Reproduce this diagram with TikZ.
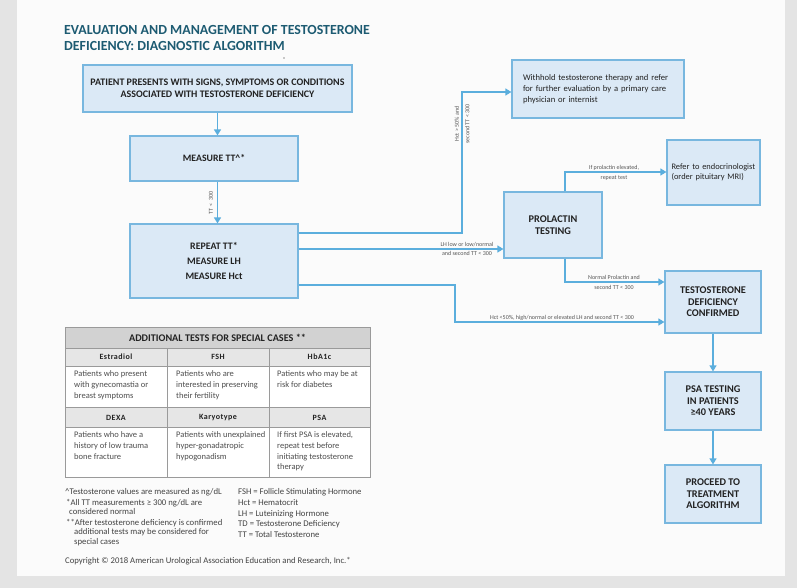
\documentclass[tikz,border=0pt]{standalone}
\usepackage{fontspec}
\setmainfont{Carlito}
\usetikzlibrary{arrows.meta}
\definecolor{bgc}{HTML}{E4E4E4}
\definecolor{panelc}{HTML}{FBFBFB}
\definecolor{boxfill}{HTML}{DBE9F6}
\definecolor{boxline}{HTML}{78B7DF}
\definecolor{connc}{HTML}{5BAEDD}
\definecolor{titlec}{HTML}{1D5B72}
\definecolor{txt}{HTML}{222222}
\definecolor{lblc}{HTML}{555555}
\definecolor{tabline}{HTML}{9A9A9A}
\definecolor{tabhead}{HTML}{D2D2D2}
\definecolor{tabsub}{HTML}{E6E6E6}
\tikzset{
  box/.style={draw=boxline, fill=boxfill, line width=1.2pt, align=center, text=txt, inner sep=0pt},
  bigtxt/.style={font=\bfseries\fontsize{10.3}{11.6}\selectfont},
  conn/.style={draw=connc, line width=1.3pt, -{Triangle[width=7pt,length=6pt]}},
  lbl/.style={font=\fontsize{6}{8.5}\selectfont, text=lblc, align=center, inner sep=0pt},
  cell/.style={draw=tabline, line width=0.8pt},
  colhead/.style={font=\bfseries\fontsize{8}{10}\selectfont\addfontfeature{LetterSpace=6}, text=txt, inner sep=0pt},
  celltxt/.style={font=\fontsize{8.5}{10.7}\selectfont, text=txt!80, align=left, anchor=north west, inner sep=0pt},
  foot/.style={font=\fontsize{8.7}{9}\selectfont, text=txt!85, anchor=base west, inner sep=0pt}
}
\begin{document}
\begin{tikzpicture}[x=1pt,y=-1pt]
\useasboundingbox (0,0) rectangle (797,588);
\fill[bgc] (0,0) rectangle (797,588);
\fill[panelc] (17,0) rectangle (785,576);

% title
\node[anchor=base west, inner sep=0pt, text=titlec, font=\bfseries\fontsize{13.9}{16}\selectfont] (t1) at (64,35) {EVALUATION AND MANAGEMENT OF TESTOSTERONE};
\node[anchor=base west, inner sep=0pt, text=titlec, font=\bfseries\fontsize{13.9}{16}\selectfont] (t2) at (64,51) {DEFICIENCY: DIAGNOSTIC ALGORITHM};
\fill[txt] (284,58) circle (0.6pt);

% boxes
\node[box, font=\bfseries\fontsize{10}{12.5}\selectfont, minimum width=269pt, minimum height=47pt] (b1) at (217.5,88.5)
  {PATIENT PRESENTS WITH SIGNS, SYMPTOMS OR CONDITIONS\\ASSOCIATED WITH TESTOSTERONE DEFICIENCY};
\node[box, font=\bfseries\fontsize{9.8}{12}\selectfont, minimum width=168pt, minimum height=45pt] (b2) at (214,158.5) {MEASURE TT\textasciicircum*};
\node[box, font=\bfseries\fontsize{9.9}{15}\selectfont, minimum width=168pt, minimum height=74pt] (b3) at (214,261) {REPEAT TT*\\MEASURE LH\\MEASURE Hct};
\node[box, minimum width=172pt, minimum height=58pt, text width=150pt, align=left, font=\fontsize{8.6}{11}\selectfont] (wh) at (598,89)
  {Withhold testosterone therapy and refer for further evaluation by a primary care physician or internist};
\node[box, font=\bfseries\fontsize{10.3}{12}\selectfont, minimum width=98pt, minimum height=66pt] (pr) at (553,225) {PROLACTIN\\TESTING};
\node[box, minimum width=93pt, minimum height=65pt, text width=84pt, align=left, font=\fontsize{8.4}{10.5}\selectfont] (rf) at (713.5,172.5)
  {Refer to endocrinologist (order pituitary MRI)};
\node[box, bigtxt, minimum width=96pt, minimum height=62pt] (td) at (713,302) {TESTOSTERONE\\DEFICIENCY\\CONFIRMED};
\node[box, bigtxt, minimum width=96pt, minimum height=58pt] (ps) at (713,401) {PSA TESTING\\IN PATIENTS\\≥40 YEARS};
\node[box, bigtxt, minimum width=96pt, minimum height=58pt] (pc) at (713,494) {PROCEED TO\\TREATMENT\\ALGORITHM};

% coordinates for bends
\coordinate (c1) at (462,92);
\coordinate (c2) at (455,322);
\coordinate (c3) at (565,172);
\coordinate (c4) at (565,282);

% connectors
\draw[conn] (b1.south) -- (b1.south |- b2.north);
\draw[conn] (b1.south |- b2.south) -- (b1.south |- b3.north);
\draw[conn] (b3.east |- 0,233) -| (c1) -- (wh.west |- c1);
\draw[conn] (b3.east |- 0,249) -- (pr.west |- 0,249);
\draw[conn] (c3 |- pr.north) -- (c3) -- (rf.west |- c3);
\draw[conn] (c4 |- pr.south) -- (c4) -- (td.west |- c4);
\draw[conn] (b3.east |- 0,285) -| (c2) -- (td.west |- c2);
\draw[conn] (td.south -| 713,0) -- (ps.north -| 713,0);
\draw[conn] (ps.south -| 713,0) -- (pc.north -| 713,0);

% connector labels
\node[lbl, rotate=90] (l0) at (211,203) {TT \,<\, 300};
\node[lbl, rotate=90, font=\fontsize{6}{10.5}\selectfont] (l1) at (462,124) {Hct > 50\% and\\second TT < 300};
\node[lbl] (l2) at (467,249) {LH low or low/normal\\and second TT < 300};
\node[lbl, font=\fontsize{6}{10}\selectfont] (l3) at (614,173) {If prolactin elevated,\\repeat test};
\node[lbl, font=\fontsize{6}{9.5}\selectfont] (l4) at (614,282.5) {Normal Prolactin and\\second TT < 300};
\node[lbl] (l5) at (562,317.5) {Hct <50\%, high/normal or elevated LH and second TT < 300};

% table
\fill[tabhead] (65,327) rectangle (370,348);
\fill[tabsub] (65,348) rectangle (370,366);
\fill[white] (65,366) rectangle (370,407);
\fill[tabsub] (65,407) rectangle (370,427);
\fill[white] (65,427) rectangle (370,477);
\draw[cell] (65,327) rectangle (370,477);
\draw[cell] (65,348) -- (370,348);
\draw[cell] (65,366) -- (370,366);
\draw[cell] (65,407) -- (370,407);
\draw[cell] (65,427) -- (370,427);
\draw[cell] (167,348) -- (167,477);
\draw[cell] (269,348) -- (269,477);
\node[font=\bfseries\fontsize{10.2}{10}\selectfont, text=txt, inner sep=0pt] (th) at (217.5,337.5) {ADDITIONAL TESTS FOR SPECIAL CASES **};
\node[colhead] (h1) at (116,357) {Estradiol};
\node[colhead] (h2) at (218,357) {FSH};
\node[colhead] (h3) at (319.5,357) {HbA1c};
\node[colhead] (h4) at (116,417.5) {DEXA};
\node[colhead] (h5) at (218,417.5) {Karyotype};
\node[colhead] (h6) at (319.5,417.5) {PSA};
\node[celltxt] (e1) at (74,370.5) {Patients who present\\with gynecomastia or\\breast symptoms};
\node[celltxt] (e2) at (176,370.5) {Patients who are\\interested in preserving\\their fertility};
\node[celltxt] (e3) at (277,370.5) {Patients who may be at\\risk for diabetes};
\node[celltxt] (e4) at (74,431.5) {Patients who have a\\history of low trauma\\bone fracture};
\node[celltxt] (e5) at (176,431.5) {Patients with unexplained\\hyper-gonadatropic\\hypogonadism};
\node[celltxt] (e6) at (277,431.5) {If first PSA is elevated,\\repeat test before\\initiating testosterone\\therapy};

% footnotes
\node[foot] (f1) at (65,494) {\textasciicircum Testosterone values are measured as ng/dL};
\node[foot] (f2) at (66,505) {*All TT measurements ≥ 300 ng/dL are};
\node[foot] (f3) at (69,514.5) {considered normal};
\node[foot] (f4) at (66,525) {**After testosterone deficiency is confirmed};
\node[foot] (f5) at (74,534.5) {additional tests may be considered for};
\node[foot] (f6) at (74,544) {special cases};
\node[foot] (g1) at (238,494) {FSH = Follicle Stimulating Hormone};
\node[foot] (g2) at (238,505) {Hct = Hematocrit};
\node[foot] (g3) at (238,516) {LH = Luteinizing Hormone};
\node[foot] (g4) at (238,526) {TD = Testosterone Deficiency};
\node[foot] (g5) at (238,537) {TT = Total Testosterone};
\node[foot] (cp) at (65,563) {Copyright © 2018 American Urological Association Education and Research, Inc.*};
\end{tikzpicture}
\end{document}
